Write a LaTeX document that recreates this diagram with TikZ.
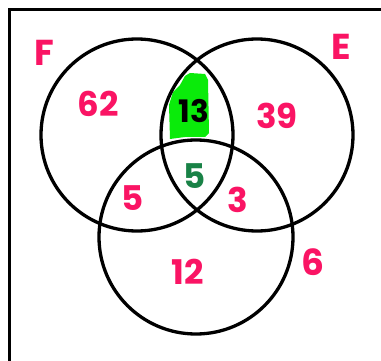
\documentclass[tikz,border=0pt]{standalone}
\usepackage{fontspec}
\setmainfont{Poppins}
\definecolor{pinkred}{RGB}{250,20,100}
\definecolor{hlgreen}{RGB}{10,235,10}
\definecolor{darkgreen}{RGB}{25,130,70}
\begin{document}
\begin{tikzpicture}[x=1pt,y=-1pt,
  circ/.style={draw=black,line width=3.3pt},
  lbl/.style={text=pinkred,font=\fontsize{36}{36}\selectfont\bfseries,inner sep=0pt},
  num/.style={text=pinkred,font=\fontsize{34}{34}\selectfont\bfseries,inner sep=0pt}]
\useasboundingbox (0,0) rectangle (381,361);
\fill[white] (0,0) rectangle (381,361);
\draw[line width=3pt] (395,9.5) -- (9.5,9.5) -- (9.5,375);
% green highlight
\fill[hlgreen] (190,73) -- (205,74) -- (208,80) -- (209,133) -- (205,137) -- (185,137) -- (170,139) -- (169,105) -- (173,92) -- (180,85) -- (185,76) -- cycle;
\node[circ,circle,minimum size=192pt,inner sep=0pt] (F) at (137,135) {};
\node[circ,circle,minimum size=192pt,inner sep=0pt] (E) at (257,135) {};
\node[circ,circle,minimum size=194pt,inner sep=0pt] (G) at (196,237) {};
\node[lbl] (lF) at (44,53) {F};
\node[lbl] (lE) at (341,47) {E};
\node[lbl] (lG) at (313,262) {6};
\node[num] (n62) at (98,104) {62};
\node[num,text=black,font=\fontsize{31}{31}\selectfont\bfseries] (n13) at (194,111) {13};
\node[num] (n39) at (277,116) {39};
\node[num,text=darkgreen] (n5c) at (195,176) {5};
\node[num] (n5) at (133,198) {5};
\node[num] (n3) at (238,200) {3};
\node[num] (n12) at (188,272) {12};
\end{tikzpicture}
\end{document}
